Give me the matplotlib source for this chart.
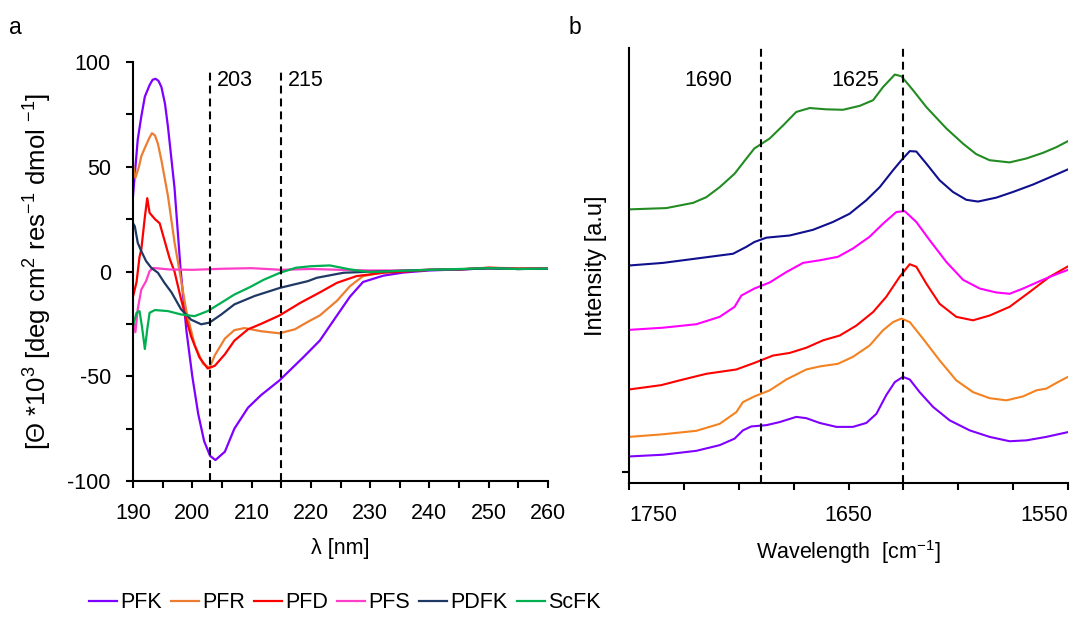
import numpy as np
import matplotlib
matplotlib.use("Agg")
import matplotlib.pyplot as plt
from matplotlib.ticker import MultipleLocator, FixedLocator, NullFormatter
from matplotlib.lines import Line2D

FS = 15.5
plt.rcParams['font.family'] = ['Liberation Sans', 'DejaVu Sans']
plt.rcParams['mathtext.fontset'] = 'custom'
plt.rcParams['mathtext.rm'] = 'Liberation Sans'
plt.rcParams['mathtext.it'] = 'Liberation Sans'
plt.rcParams['axes.unicode_minus'] = False
plt.rcParams['font.size'] = FS

names = ["PFK", "PFR", "PFD", "PFS", "PDFK", "ScFK"]
cd_colors = ["#7F00FF", "#ED7D31", "#FF0000", "#FF3FC8", "#1F3864", "#00B050"]
ir_colors = ["#8000FF", "#F58220", "#FF0000", "#FF00FF", "#10108F", "#228B22"]

# --- CD spectra (Θ x10^3 deg cm2 res-1 dmol-1 vs nm) ---
pfk_nm = [190, 190.8, 191.4, 192.0, 192.8, 193.3, 193.8, 194.3, 194.8, 195.4, 195.9, 197.0,
          198.0, 199.0, 200.0, 201.0, 202.0, 203.0, 203.9, 205.5, 207.1, 209.4, 211.6, 214.7,
          218.7, 221.5, 224.4, 226.6, 228.8, 232.2, 235.6, 240, 245, 250, 255, 260]
pfk_cd = [36, 63, 74, 83.5, 89, 91.5, 92, 91, 88, 80, 69, 40,
          2, -28, -50, -68, -81, -88, -90, -86, -75, -65, -59, -52,
          -41, -33, -21, -12, -5, -2, -0.5, 0.5, 1, 1.5, 1.2, 1.5]

pfr_nm = [190, 190.4, 191.0, 191.4, 192.0, 192.8, 193.2, 193.7, 194.2, 194.8, 195.9, 197.0,
          197.8, 199.0, 200.4, 201.8, 202.9, 203.8, 205.5, 207.1, 208.8, 211.6, 214.7, 217.3,
          219.5, 221.5, 224.4, 226.6, 228.8, 233.3, 240, 245, 250, 255, 260]
pfr_cd = [51, 44.6, 50, 55, 59, 64, 66, 65, 61, 53, 36, 14,
          1, -19, -35, -44, -46, -40, -32, -28, -27, -28.5, -29.5, -27.6,
          -24, -21, -14, -7, -2.2, 0.2, 0.8, 1, 1.8, 1.5, 1.5]

pfd_nm = [190, 190.6, 191.1, 191.4, 192.0, 192.4, 192.8, 193.7, 194.5, 195.3, 196.2, 197.0,
          198.0, 198.9, 199.8, 201.2, 202.6, 203.8, 205.5, 207.1, 209.4, 211.6, 214.7, 218.2,
          221.5, 224.4, 227.7, 232.2, 236, 240, 245, 250, 255, 260]
pfd_cd = [-12, -5, 7, 10.5, 26, 35, 28, 25, 23, 15, 6, 0,
          -12, -22, -31, -41, -46.3, -45, -39.5, -33, -27.6, -25, -21, -15,
          -10, -5.4, -2.2, -0.6, 0, 0.8, 1, 1.8, 1.3, 1.5]

pfs_nm = [190, 190.4, 190.8, 191.4, 192.2, 192.8, 193.4, 196, 200, 205, 210, 215,
          220, 225, 230, 235, 240, 245, 250, 255, 260]
pfs_cd = [-22, -29, -18, -8.6, -4.6, 0.2, 1.7, 1, 0.8, 1.3, 1.6, 0.8,
          1.2, 0.8, 0.5, 0.5, 0.8, 1, 1.6, 1.2, 1.4]

pdfk_nm = [190, 190.3, 190.8, 191.4, 192.2, 193.1, 194.2, 195.3, 196.5, 198.1, 199.8, 201.5,
           202.9, 204.9, 207.1, 210.5, 214.8, 219.5, 221, 225.5, 229, 235, 240, 245, 250, 255, 260]
pdfk_cd = [23, 21.6, 13.7, 9.7, 5, 1.7, -0.6, -5.4, -10, -18, -23, -25.2,
           -24.4, -20.5, -15.7, -11.7, -7.8, -4.6, -3, -0.6, -0.2, 0.3, 0.8, 1, 1.5, 1.2, 1.3]

scfk_nm = [190, 190.6, 191.1, 191.5, 192.0, 192.4, 192.8, 193.7, 195.9, 198.1, 200.4, 202.6,
           204.9, 207.1, 209.7, 212, 214.8, 217.5, 219.9, 223.2, 226.6, 230, 235, 240, 245,
           250, 255, 260]
scfk_cd = [-26, -19.7, -18.9, -26, -37, -27.6, -19.7, -18.4, -18.9, -20.5, -21.3, -18.9,
           -14.9, -11, -7.5, -4, -0.6, 1.8, 2.5, 2.9, 1, -0.3, 0.3, 0.8, 1.2,
           1.6, 1.2, 1.4]

cd_x = [pfk_nm, pfr_nm, pfd_nm, pfs_nm, pdfk_nm, scfk_nm]
cd_y = [pfk_cd, pfr_cd, pfd_cd, pfs_cd, pdfk_cd, scfk_cd]
cd_marks = [203, 215]

# --- FTIR amide I spectra (a.u., stacked) ---
pfk_wn = [1750, 1734.5, 1719.3, 1708.7, 1701.9, 1698.1, 1694.3, 1687.4, 1681.4, 1673.8, 1669.2,
          1663.1, 1655.5, 1648.0, 1641.9, 1637.3, 1632.8, 1628.9, 1625.2, 1622.1, 1617.6,
          1611.5, 1603.9, 1594.8, 1585.7, 1576.6, 1569.0, 1559.9, 1550]
pfk_ir = [6.1, 6.5, 7.4, 8.7, 10.2, 12.1, 13.0, 13.3, 14.0, 15.2, 14.9,
          13.8, 12.9, 12.9, 13.8, 15.9, 20.2, 23.2, 24.4, 23.8, 20.9,
          17.5, 14.4, 12.1, 10.6, 9.6, 9.8, 10.6, 11.7]

pfr_wn = [1750, 1734.5, 1719.3, 1708.7, 1701.1, 1698.1, 1692.9, 1685.9, 1678.3, 1669.2, 1663.1,
          1654.8, 1648.0, 1640.4, 1634.3, 1629.7, 1625.9, 1622.1, 1616.1, 1608.5, 1600.9,
          1593.3, 1585.7, 1578.1, 1570.5, 1564.4, 1559.9, 1554.6, 1550]
pfr_ir = [10.6, 11.2, 12.0, 13.6, 16.3, 18.6, 19.9, 21.3, 23.8, 26.1, 26.8,
          27.4, 29.0, 31.6, 35.1, 37.0, 37.8, 37.0, 33.2, 28.2, 23.6,
          20.9, 19.5, 19.0, 19.9, 21.3, 21.7, 23.2, 24.4]

pfd_wn = [1750, 1735.3, 1726.9, 1714.8, 1701.1, 1692.9, 1684.4, 1676.8, 1669.2, 1661.6, 1654.0,
          1646.4, 1638.8, 1632.8, 1626.7, 1622.1, 1619.1, 1614.5, 1608.5, 1600.9, 1593.3,
          1585.7, 1576.6, 1567.5, 1558.4, 1550]
pfd_ir = [21.5, 22.5, 23.6, 25.1, 26.1, 27.6, 29.3, 29.9, 31.1, 32.8, 33.9,
          36.2, 39.3, 42.8, 47.4, 50.3, 49.7, 45.8, 41.2, 38.2, 37.4,
          38.5, 40.5, 43.9, 47.4, 49.8]

pfs_wn = [1750, 1734.5, 1719.3, 1708.7, 1701.9, 1698.8, 1692.9, 1685.9, 1678.3, 1670.7, 1663.1,
          1654.8, 1648.0, 1640.4, 1634.3, 1628.2, 1624.4, 1619.1, 1613.0, 1605.4, 1597.8,
          1590.2, 1582.7, 1576.6, 1570.5, 1562.9, 1556.8, 1550]
pfs_ir = [35.2, 35.7, 36.5, 38.2, 40.5, 43.1, 44.7, 46.1, 48.5, 50.6, 51.2,
          52.0, 53.9, 56.6, 59.6, 62.3, 62.5, 60.0, 55.8, 50.8, 46.7,
          44.7, 43.8, 43.5, 44.7, 46.4, 47.7, 49.0]

pdfk_wn = [1750, 1734.5, 1719.3, 1702.6, 1696.5, 1692.9, 1687.4, 1676.8, 1666.2, 1657.1, 1649.5,
           1641.9, 1635.8, 1629.7, 1625.9, 1622.1, 1619.1, 1614.5, 1608.5, 1602.4, 1596.3,
           1591.0, 1582.7, 1575.1, 1566.0, 1556.8, 1550]
pdfk_ir = [50.0, 50.6, 51.6, 52.7, 54.3, 55.4, 56.4, 56.9, 58.2, 60.0, 61.9,
           65.0, 68.0, 71.9, 74.2, 76.3, 76.2, 73.4, 69.6, 66.9, 65.1,
           64.7, 65.6, 66.9, 68.6, 70.6, 72.1]

scfk_wn = [1750, 1733, 1720.8, 1714.8, 1708.7, 1701.9, 1696.5, 1692.9, 1685.9, 1679.8, 1673.8,
           1667.7, 1660.1, 1652.5, 1644.9, 1638.8, 1634.3, 1628.9, 1625.9, 1620.6, 1614.5,
           1605.4, 1597.8, 1591.8, 1585.7, 1576.6, 1569.0, 1561.4, 1555.3, 1550]
scfk_ir = [62.9, 63.2, 64.4, 65.7, 68.0, 71.1, 74.6, 76.9, 79.2, 82.2, 85.3,
           86.2, 85.9, 85.8, 86.7, 88.0, 91.0, 93.9, 93.5, 90.3, 86.4,
           81.5, 78.0, 75.6, 74.2, 73.7, 74.6, 75.9, 77.2, 78.6]

ir_x = [pfk_wn, pfr_wn, pfd_wn, pfs_wn, pdfk_wn, scfk_wn]
ir_y = [pfk_ir, pfr_ir, pfd_ir, pfs_ir, pdfk_ir, scfk_ir]
ir_marks = [1690, 1625]
ir_ticks = [1750, 1650, 1550]

fig = plt.figure(figsize=(10.71, 6.28), dpi=100)

dash = (0, (3.8, 2.4))

# ---------------- panel a: CD ----------------
ax1 = fig.add_axes([133 / 1071, 1 - 481 / 628, 415 / 1071, 419 / 628])
for x, y, c in zip(cd_x, cd_y, cd_colors):
    ax1.plot(x, y, color=c, lw=1.6, solid_joinstyle='round')
for m in cd_marks:
    ax1.vlines(m, -100, 95, colors='black', linestyles=dash, lw=1.5)
    ax1.text(m + 1.2, 91, str(m), ha='left', va='center', fontsize=FS)

ax1.set_xlim(190, 260)
ax1.set_ylim(-100, 100)
ax1.xaxis.set_major_locator(MultipleLocator(10))
ax1.xaxis.set_minor_locator(MultipleLocator(5))
ax1.yaxis.set_major_locator(MultipleLocator(50))
ax1.yaxis.set_minor_locator(MultipleLocator(25))
ax1.set_xlabel("λ [nm]")
ax1.set_ylabel("[Θ *10$^3$ [deg cm$^2$ res$^{-1}$ dmol $^{-1}$]", fontsize=18.5)
ax1.xaxis.set_label_coords(0.5, -0.136)
ax1.yaxis.set_label_coords(-0.19, 0.5)

# ---------------- panel b: FTIR ----------------
ax2 = fig.add_axes([629 / 1071, 1 - 483 / 628, 439 / 1071, 435 / 628])
for x, y, c in zip(ir_x, ir_y, ir_colors):
    ax2.plot(x, y, color=c, lw=1.5, solid_joinstyle='round')
for m in ir_marks:
    ax2.axvline(m, color='black', ls=dash, lw=1.5)
ax2.text(1714, 92.5, "1690", ha='center', va='center', fontsize=FS)
ax2.text(1647, 92.5, "1625", ha='center', va='center', fontsize=FS)

ax2.set_xlim(1750, 1550)
ax2.set_ylim(0, 100)
ax2.xaxis.set_major_locator(FixedLocator(ir_ticks))
ax2.xaxis.set_minor_locator(MultipleLocator(25))
ax2.set_yticks([2.5])
ax2.yaxis.set_major_formatter(NullFormatter())
ax2.set_xlabel("Wavelength  [cm$^{-1}$]")
ax2.set_ylabel("Intensity [a.u]", fontsize=17)
ax2.xaxis.set_label_coords(0.499, -0.126)
ax2.yaxis.set_label_coords(-0.05, 0.5)

for ax in (ax1, ax2):
    for side in ('top', 'right'):
        ax.spines[side].set_visible(False)
    for side in ('left', 'bottom'):
        ax.spines[side].set_linewidth(1.5)
    ax.tick_params(which='both', direction='out', length=5, width=1.5, pad=11, labelsize=FS)

fig.text(15 / 1071, 1 - 28 / 628, "a", ha='center', va='center', fontsize=FS + 1)
fig.text(575 / 1071, 1 - 28 / 628, "b", ha='center', va='center', fontsize=FS + 1)

handles = [Line2D([], [], color=c, lw=1.6) for c in cd_colors]
fig.legend(handles, names, loc='center', bbox_to_anchor=(0.322, 0.04), ncol=6,
           frameon=False, handlelength=1.3, handletextpad=0.15, columnspacing=0.42,
           fontsize=FS)

# end labels of the wavenumber axis sit inside the axis span
fig.canvas.draw()
ir_labels = ax2.get_xticklabels()
ir_labels[0].set_ha('left')
ir_labels[-1].set_ha('right')

fig.savefig("out.png", dpi=100)
